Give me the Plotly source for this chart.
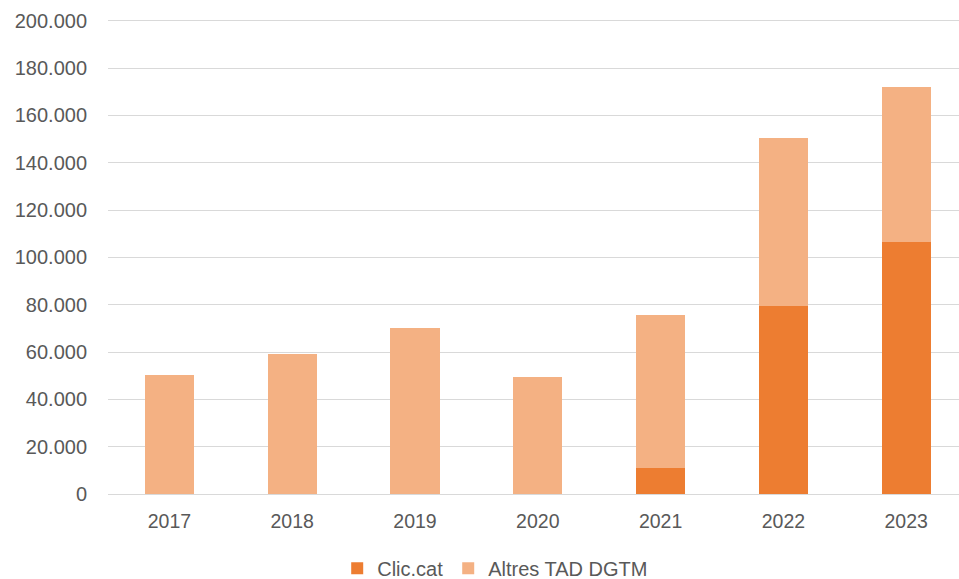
import plotly.graph_objects as go

years = ["2017", "2018", "2019", "2020", "2021", "2022", "2023"]
clic_cat = [0, 0, 0, 0, 11000, 79500, 106500]
altres_tad = [50300, 59200, 70200, 49500, 64700, 71000, 65600]
y_ticks = [0, 20000, 40000, 60000, 80000, 100000, 120000, 140000, 160000, 180000, 200000]

font_family = "Liberation Sans, Arial, sans-serif"
grey = "#595959"

fig = go.Figure()
fig.add_trace(go.Bar(x=years, y=clic_cat, name="Clic.cat",
                     marker=dict(color="#ED7D31", line=dict(width=0))))
fig.add_trace(go.Bar(x=years, y=altres_tad, name="Altres TAD DGTM",
                     marker=dict(color="#F4B183", line=dict(width=0))))

fig.update_layout(
    barmode="stack",
    bargap=0.6,
    width=959, height=579,
    margin=dict(l=108, r=0, t=17, b=85, autoexpand=False),
    paper_bgcolor="white", plot_bgcolor="white",
    separators=",.",
    font=dict(family=font_family, size=20, color=grey),
    xaxis=dict(type="category", range=[-0.5, 6.43], showgrid=False, automargin=False,
               showline=False, ticks="", ticklabelstandoff=13,
               tickfont=dict(size=19.5, color=grey)),
    yaxis=dict(range=[0, 201600], tickvals=y_ticks, tickformat=",d", automargin=False,
               showgrid=True, gridcolor="#D9D9D9", gridwidth=1,
               zeroline=True, zerolinecolor="#D9D9D9", zerolinewidth=1,
               ticks="", ticklabelstandoff=20, tickfont=dict(size=20, color=grey)),
    legend=dict(orientation="h", x=0.455, xanchor="center", y=-0.115, yanchor="top",
                font=dict(size=20, color=grey), traceorder="normal",
                itemwidth=30),
    showlegend=True,
)

fig.write_html("out.html", config={"displayModeBar": False},
               post_script="document.body.style.margin='0';document.body.style.overflow='hidden';")
